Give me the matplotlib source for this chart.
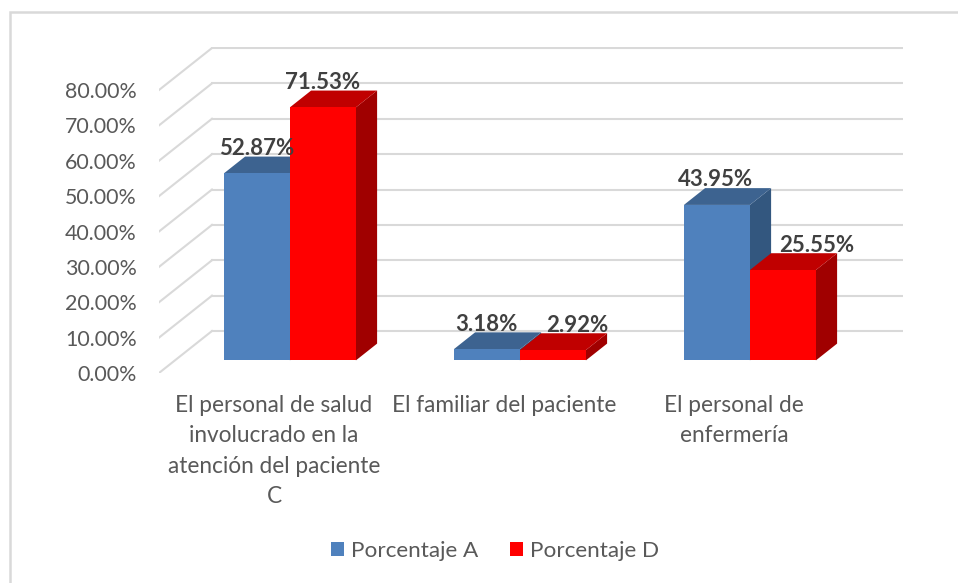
import matplotlib
matplotlib.use("Agg")
import matplotlib.pyplot as plt
from matplotlib.patches import Polygon, Rectangle, Patch
from matplotlib.lines import Line2D
import numpy as np

# ---- data ----
categories = [
    "El personal de salud\ninvolucrado en la\natención del paciente\nC",
    "El familiar del paciente",
    "El personal de\nenfermería",
]
series_names = ["Porcentaje A", "Porcentaje D"]
pct_a = [52.87, 3.18, 43.95]
pct_d = [71.53, 2.92, 25.55]
y_ticks = [0, 10, 20, 30, 40, 50, 60, 70, 80]
y_tick_labels = [f"{t:.2f}%" for t in y_ticks]

# ---- style ----
front_cols = ["#4F81BD", "#FF0000"]
top_cols = ["#3D6390", "#C00000"]
side_cols = ["#33577F", "#A00000"]
grid_col = "#D9D9D9"
text_col = "#595959"
label_col = "#404040"
# horizontal nudges (pixels) of the data labels, as placed in the original
label_nudge_px = [[0, 0, -1.5], [0, 24.5, 34]]
FONT = ["Lato", "DejaVu Sans"]
plt.rcParams["font.family"] = FONT

W, H = 958, 583
fig = plt.figure(figsize=(W / 100, H / 100), dpi=100)

# geometry (pixels) of the front plane
px_left, px_back_right = 159, 903
px_zero, px_top = 373, 47
px_per_cat = 230.0
px_per_pct = 3.5375
depth_dx_px, depth_dy_px = 53.0, 42.0

ax = fig.add_axes([px_left / W, (H - px_zero) / H,
                   (px_back_right - px_left) / W, (px_zero - px_top) / H])
ax.set_xlim(-0.5, -0.5 + (px_back_right - px_left) / px_per_cat)
ax.set_ylim(0, (px_zero - px_top) / px_per_pct)
DX = depth_dx_px / px_per_cat
DY = depth_dy_px / px_per_pct
ncat = len(categories)
x_front_right = ncat - 0.5

# 3D gridlines: side wall diagonals + back wall horizontals
for t in y_ticks:
    ax.add_line(Line2D([-0.5, -0.5 + DX], [t, t + DY], color=grid_col, lw=1.5, zorder=1))
    ax.add_line(Line2D([-0.5 + DX, x_front_right + DX], [t + DY, t + DY],
                       color=grid_col, lw=1.5, zorder=1))

# bars
bw = 66.0 / px_per_cat
f1, f2 = 0.3, 0.7
x = np.arange(ncat)
z = 2
for si, vals in enumerate([pct_a, pct_d]):
    x0s = x - bw + si * bw
    for i, (x0, v) in enumerate(zip(x0s, vals)):
        x1 = x0 + bw
        side = Polygon([(x1 + f1 * DX, f1 * DY), (x1 + f2 * DX, f2 * DY),
                        (x1 + f2 * DX, v + f2 * DY), (x1 + f1 * DX, v + f1 * DY)],
                       closed=True, facecolor=side_cols[si], edgecolor="none", zorder=z)
        ax.add_patch(side)
        top = Polygon([(x0 + f1 * DX, v + f1 * DY), (x1 + f1 * DX, v + f1 * DY),
                       (x1 + f2 * DX, v + f2 * DY), (x0 + f2 * DX, v + f2 * DY)],
                      closed=True, facecolor=top_cols[si], edgecolor="none", zorder=z)
        ax.add_patch(top)
    ax.bar(x0s + f1 * DX, vals, width=bw, bottom=f1 * DY, align="edge",
           color=front_cols[si], edgecolor="none", zorder=z + 0.5)
    for i, (x0, v) in enumerate(zip(x0s, vals)):
        ax.annotate(f"{v:.2f}%", xy=(x0 + bw / 2 + f1 * DX, v + f2 * DY),
                    xytext=(label_nudge_px[si][i] * 0.72, 1.2), textcoords="offset points",
                    ha="center", va="baseline", fontsize=16, fontweight="bold",
                    color=label_col, zorder=10, annotation_clip=False)
    z += 1

# axes cosmetics
for s in ax.spines.values():
    s.set_visible(False)
ax.set_yticks(y_ticks)
ax.set_yticklabels(y_tick_labels)
ax.set_xticks(x)
ax.set_xticklabels(categories, linespacing=1.54)
ax.tick_params(axis="y", length=0, pad=16, labelsize=15.4, labelcolor=text_col)
ax.tick_params(axis="x", length=0, pad=16, labelsize=16.3, labelcolor=text_col)
ax.patch.set_visible(False)

# legend
handles = [Patch(facecolor=c, edgecolor="none") for c in front_cols]
fig.legend(handles, series_names, loc="center", bbox_to_anchor=(495 / W, 1 - 551 / H),
           ncol=2, frameon=False, fontsize=16.2, labelcolor=text_col,
           handlelength=0.6, handleheight=0.6, handletextpad=0.3, columnspacing=1.4)

# outer chart frame
fig.add_artist(Rectangle((10 / W, -0.05), 1.1, 1 - 12 / H + 0.05, transform=fig.transFigure,
                         fill=False, edgecolor="#D9D9D9", lw=1.8))

fig.savefig("out.png", dpi=100)
